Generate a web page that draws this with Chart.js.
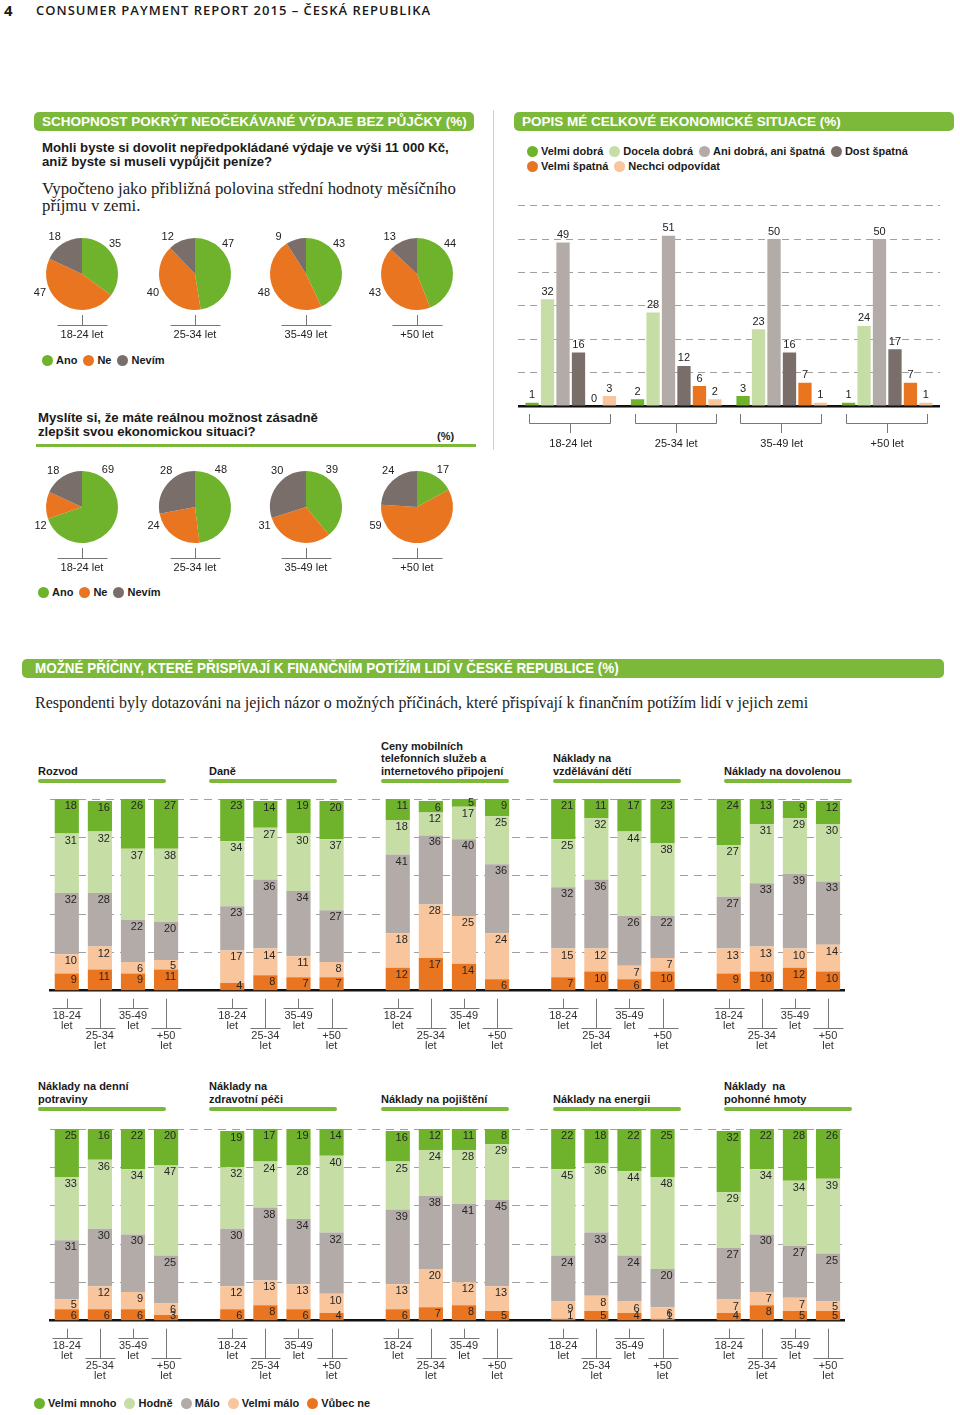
<!DOCTYPE html>
<html><head><meta charset="utf-8">
<script src="https://cdn.jsdelivr.net/npm/chart.js@4.4.0/dist/chart.umd.min.js"></script>
<style>
body{margin:0;width:960px;height:1415px;position:relative;background:#fff;font-family:"Liberation Sans",Arial,sans-serif;color:#1a1a1a;overflow:hidden}
.a{position:absolute;white-space:nowrap}
.hdr{font-family:"Open Sans",sans-serif;font-weight:600;font-size:13px;letter-spacing:1px;line-height:18px;top:1px}
.banner{position:absolute;background:#7cb83a;color:#fff;font-weight:bold;font-size:13.5px;height:19px;line-height:19px;border-radius:5px;box-sizing:border-box;white-space:nowrap}
.q{font-weight:bold;font-size:13.2px;line-height:14px}
.serif{font-family:"Liberation Serif","DejaVu Serif",serif;font-size:16px;line-height:16.5px;color:#222}
.leg{font-weight:bold;font-size:11px;line-height:14px;display:flex;align-items:center}
.leg span.d{display:inline-block;width:11px;height:11px;border-radius:50%;margin-right:3px}
.leg span.t{margin-right:6px}
.ttl{position:absolute;font-weight:bold;font-size:11px;line-height:12.5px;white-space:nowrap}
.gl{position:absolute;height:4px;border-radius:2px;background:#7cb83a}
canvas{position:absolute}
</style></head>
<body>
<div class="a hdr" style="left:4px;font-size:15px;font-weight:700;letter-spacing:0">4</div>
<div class="a hdr" style="left:36px">CONSUMER PAYMENT REPORT 2015 – ČESKÁ REPUBLIKA</div>

<div class="banner" style="left:34px;top:112px;width:440px;padding-left:8px">SCHOPNOST POKRÝT NEOČEKÁVANÉ VÝDAJE BEZ PŮJČKY (%)</div>
<div class="a q" style="left:42px;top:141px">Mohli byste si dovolit nepředpokládané výdaje ve výši 11 000 Kč,<br>aniž byste si museli vypůjčit peníze?</div>
<div class="a serif" style="left:42px;top:181px;font-size:16.8px">Vypočteno jako přibližná polovina střední hodnoty měsíčního<br>příjmu v zemi.</div>

<div class="a" style="left:493px;top:110px;width:1px;height:340px;background:#cfcfcf"></div>
<div class="banner" style="left:514px;top:112px;width:440px;padding-left:8px">POPIS MÉ CELKOVÉ EKONOMICKÉ SITUACE (%)</div>
<div class="a leg" style="left:527px;top:144px"><span class="d" style="background:#6fb22b"></span><span class="t">Velmi dobrá</span><span class="d" style="background:#c6dea6"></span><span class="t">Docela dobrá</span><span class="d" style="background:#b3aba8"></span><span class="t">Ani dobrá, ani špatná</span><span class="d" style="background:#7a6e6a"></span><span class="t">Dost špatná</span></div>
<div class="a leg" style="left:527px;top:159px"><span class="d" style="background:#ea7520"></span><span class="t">Velmi špatná</span><span class="d" style="background:#f8c59c"></span><span class="t">Nechci odpovídat</span></div>

<div class="a leg" style="left:42px;top:353px"><span class="d" style="background:#6fb22b"></span><span class="t">Ano</span><span class="d" style="background:#ea7520"></span><span class="t">Ne</span><span class="d" style="background:#7a6e6a"></span><span class="t">Nevím</span></div>

<div class="a q" style="left:38px;top:411px">Myslíte si, že máte reálnou možnost zásadně<br>zlepšit svou ekonomickou situaci?</div>
<div class="a" style="left:437px;top:429px;font-weight:bold;font-size:11px;line-height:14px">(%)</div>
<div class="a" style="left:36px;top:444px;width:440px;height:3px;background:#7cb83a"></div>
<div class="a leg" style="left:38px;top:585px"><span class="d" style="background:#6fb22b"></span><span class="t">Ano</span><span class="d" style="background:#ea7520"></span><span class="t">Ne</span><span class="d" style="background:#7a6e6a"></span><span class="t">Nevím</span></div>

<div class="banner" style="left:22px;top:659px;width:922px;padding-left:13px;font-size:14px"><span style="display:inline-block;transform:scaleX(0.96);transform-origin:left center">MOŽNÉ PŘÍČINY, KTERÉ PŘISPÍVAJÍ K FINANČNÍM POTÍŽÍM LIDÍ V ČESKÉ REPUBLICE (%)</span></div>
<div class="a serif" style="left:35px;top:695px">Respondenti byly dotazováni na jejich názor o možných příčinách, které přispívají k finančním potížím lidí v jejich zemi</div>

<div class="a leg" style="left:34px;top:1396px"><span class="d" style="background:#6fb22b"></span><span class="t" style="margin-right:8px">Velmi mnoho</span><span class="d" style="background:#c6dea6"></span><span class="t" style="margin-right:8px">Hodně</span><span class="d" style="background:#b3aba8"></span><span class="t" style="margin-right:8px">Málo</span><span class="d" style="background:#f8c59c"></span><span class="t" style="margin-right:8px">Velmi málo</span><span class="d" style="background:#ea7520"></span><span class="t">Vůbec ne</span></div>

<script>
// ---------- DATA ----------
const ages = ['18-24 let', '25-34 let', '35-49 let', '+50 let'];
const ageTicks = [['18-24', 'let'], ['', '', '25-34', 'let'], ['35-49', 'let'], ['', '', '+50', 'let']];
const pieLabels = ['Ano', 'Ne', 'Nevím'];

// Schopnost pokrýt neočekávané výdaje
const coverAno = [35, 47, 43, 44];
const coverNe = [47, 40, 48, 43];
const coverNevim = [18, 12, 9, 13];

// Možnost zlepšit ekonomickou situaci
const improveAno = [69, 48, 39, 17];
const improveNe = [12, 24, 31, 59];
const improveNevim = [18, 28, 30, 24];

// Popis mé celkové ekonomické situace
const econSeries = ['Velmi dobrá', 'Docela dobrá', 'Ani dobrá, ani špatná', 'Dost špatná', 'Velmi špatná', 'Nechci odpovídat'];
const econVelmiDobra = [1, 2, 3, 1];
const econDocelaDobra = [32, 28, 23, 24];
const econAni = [49, 51, 50, 50];
const econDostSpatna = [16, 12, 16, 17];
const econVelmiSpatna = [0, 6, 7, 7];
const econNechci = [3, 2, 1, 1];

// Možné příčiny – series order: Velmi mnoho, Hodně, Málo, Velmi málo, Vůbec ne
const causeSeries = ['Velmi mnoho', 'Hodně', 'Málo', 'Velmi málo', 'Vůbec ne'];
const row1Titles = ['Rozvod', 'Daně', 'Ceny mobilních<br>telefonních služeb a<br>internetového připojení', 'Náklady na<br>vzdělávání dětí', 'Náklady na dovolenou'];
const rozvod = [[18, 16, 26, 27], [31, 32, 37, 38], [32, 28, 22, 20], [10, 12, 6, 5], [9, 11, 9, 11]];
const dane = [[23, 14, 19, 20], [34, 27, 30, 37], [23, 36, 34, 27], [17, 14, 11, 8], [4, 8, 7, 7]];
const mobilni = [[11, 6, 5, 9], [18, 12, 17, 25], [41, 36, 40, 36], [18, 28, 25, 24], [12, 17, 14, 6]];
const vzdelavani = [[21, 11, 17, 23], [25, 32, 44, 38], [32, 36, 26, 22], [15, 12, 7, 7], [7, 10, 6, 10]];
const dovolena = [[24, 13, 9, 12], [27, 31, 29, 30], [27, 33, 39, 33], [13, 13, 10, 14], [9, 10, 12, 10]];

const row2Titles = ['Náklady na denní<br>potraviny', 'Náklady na<br>zdravotní péči', 'Náklady na pojištění', 'Náklady na energii', 'Náklady&nbsp; na<br>pohonné hmoty'];
const potraviny = [[25, 16, 22, 20], [33, 36, 34, 47], [31, 30, 30, 25], [5, 12, 9, 6], [6, 6, 6, 3]];
const zdravotni = [[19, 17, 19, 14], [32, 24, 28, 40], [30, 38, 34, 32], [12, 13, 13, 10], [6, 8, 6, 4]];
const pojisteni = [[16, 12, 11, 8], [25, 24, 28, 29], [39, 38, 41, 45], [13, 20, 12, 13], [6, 7, 8, 5]];
const energie = [[22, 18, 22, 25], [45, 36, 44, 48], [24, 33, 24, 20], [9, 8, 6, 6], [1, 5, 4, 1]];
const pohonne = [[32, 22, 28, 26], [29, 34, 34, 39], [27, 30, 27, 25], [7, 7, 7, 5], [4, 8, 5, 5]];

// ---------- STYLE ----------
const G = '#6fb22b', LG = '#c6dea6', GR = '#b3aba8', DG = '#7a6e6a', OR = '#ea7520', PE = '#f8c59c';
const causeColors = [G, LG, GR, PE, OR];
const econColors = [G, LG, GR, DG, OR, PE];
Chart.defaults.font.family = '"Liberation Sans", Arial, sans-serif';
Chart.defaults.color = '#222';
Chart.defaults.animation = false;
Chart.defaults.responsive = false;
Chart.defaults.plugins.legend.display = false;
Chart.defaults.plugins.tooltip.enabled = false;

function addCanvas(left, top, w, h) {
  const c = document.createElement('canvas');
  c.width = w; c.height = h;
  c.style.left = left + 'px'; c.style.top = top + 'px';
  c.style.width = w + 'px'; c.style.height = h + 'px';
  document.body.appendChild(c);
  return c;
}

// ---------- PIES ----------
const pieDeco = {
  id: 'pieDeco',
  afterDraw(chart, args, opts) {
    const ctx = chart.ctx;
    const meta = chart.getDatasetMeta(0);
    const arc0 = meta.data[0];
    const cx = arc0.x, cy = arc0.y, r = arc0.outerRadius;
    ctx.save();
    ctx.font = '11px "Liberation Sans", Arial, sans-serif';
    ctx.fillStyle = '#222';
    ctx.textAlign = 'center'; ctx.textBaseline = 'middle';
    chart.data.datasets[0].data.forEach((v, i) => {
      const o = opts.offsets[i];
      ctx.fillText(String(v), cx + o[0] * r, cy + o[1] * r);
    });
    ctx.strokeStyle = '#777'; ctx.lineWidth = 1;
    const x = Math.round(cx) + 0.5;
    ctx.beginPath();
    ctx.moveTo(x, cy + r + 5); ctx.lineTo(x, cy + r + 15);
    ctx.moveTo(x - 25, Math.round(cy + r + 15) + 0.5); ctx.lineTo(x + 25, Math.round(cy + r + 15) + 0.5);
    ctx.stroke();
    ctx.fillText(opts.label, cx, cy + r + 25);
    ctx.restore();
  }
};

function makePie(cx, cy, values, label, offsets) {
  const c = addCanvas(cx - 65, cy - 50, 130, 140);
  new Chart(c, {
    type: 'pie',
    data: { labels: pieLabels, datasets: [{ data: values, backgroundColor: [G, OR, DG], borderWidth: 0 }] },
    options: {
      layout: { padding: { left: 29, right: 29, top: 14, bottom: 54 } },
      plugins: { pieDeco: { label: label, offsets: offsets } }
    },
    plugins: [pieDeco]
  });
}
const row1PieX = [82, 195, 306, 417];
ages.forEach((a, i) => makePie(row1PieX[i], 274, [coverAno[i], coverNe[i], coverNevim[i]], a, [[0.92, -0.83], [-1.17, 0.53], [-0.76, -1.03]]));
ages.forEach((a, i) => makePie(row1PieX[i], 507, [improveAno[i], improveNe[i], improveNevim[i]], a, [[0.72, -1.03], [-1.15, 0.52], [-0.8, -1.0]]));

// ---------- ECON BAR CHART ----------
const econData = [econVelmiDobra, econDocelaDobra, econAni, econDostSpatna, econVelmiSpatna, econNechci];
const econDeco = {
  id: 'econDeco',
  afterDraw(chart) {
    const ctx = chart.ctx, ca = chart.chartArea;
    ctx.save();
    ctx.font = '11px "Liberation Sans", Arial, sans-serif';
    ctx.fillStyle = '#222'; ctx.textAlign = 'center'; ctx.textBaseline = 'bottom';
    chart.data.datasets.forEach((ds, d) => {
      chart.getDatasetMeta(d).data.forEach((el, i) => {
        ctx.fillText(String(ds.data[i]), el.x, el.y - 2);
      });
    });
    ctx.strokeStyle = '#777'; ctx.lineWidth = 1;
    const n = chart.data.datasets.length;
    chart.data.labels.forEach((l, i) => {
      const first = chart.getDatasetMeta(0).data[i], last = chart.getDatasetMeta(n - 1).data[i];
      const L = Math.round(first.x - first.width / 2 + 4) + 0.5, R = Math.round(last.x + last.width / 2 - 6) + 0.5;
      const C = Math.round((L + R) / 2) + 0.5;
      const yb = Math.round(ca.bottom + 17) + 0.5;
      ctx.beginPath();
      ctx.moveTo(L, ca.bottom + 8); ctx.lineTo(L, yb); ctx.lineTo(R, yb); ctx.lineTo(R, ca.bottom + 8);
      ctx.moveTo(C, yb); ctx.lineTo(C, ca.bottom + 27);
      ctx.stroke();
    });
    ctx.restore();
  }
};
new Chart(addCanvas(518, 195, 422, 262), {
  type: 'bar',
  data: {
    labels: ages,
    datasets: econSeries.map((s, k) => ({ label: s, data: econData[k], backgroundColor: econColors[k], categoryPercentage: 0.88, barPercentage: 0.86 }))
  },
  options: {
    layout: { padding: { top: 10.7 } },
    scales: {
      x: { grid: { display: false, drawTicks: false }, border: { color: '#111', width: 2.5 },
           ticks: { padding: 31, font: { size: 11 }, color: '#222' }, afterFit: s => { s.height = 51; } },
      y: { min: 0, max: 60, ticks: { display: false, stepSize: 10 }, grid: { color: '#a0a0a0', drawTicks: false },
           border: { display: false, dash: [7, 5] }, afterFit: s => { s.width = 0; } }
    }
  },
  plugins: [econDeco]
});

// ---------- STACKED CAUSE ROWS ----------
const stackDeco = {
  id: 'stackDeco',
  afterDraw(chart) {
    const ctx = chart.ctx, ca = chart.chartArea, xs = chart.scales.x;
    ctx.save();
    ctx.font = '11px "Liberation Sans", Arial, sans-serif';
    ctx.fillStyle = '#262626'; ctx.textAlign = 'right'; ctx.textBaseline = 'middle';
    chart.data.datasets.forEach((ds, d) => {
      chart.getDatasetMeta(d).data.forEach((el, i) => {
        const v = ds.data[i];
        if (v == null) return;
        const top = Math.max(el.y, ca.top), base = el.base;
        const y = Math.min(top + 7, base - 4);
        ctx.fillText(String(v), el.x + el.width / 2 - 2, y);
      });
    });
    ctx.strokeStyle = '#777'; ctx.lineWidth = 1;
    chart.data.labels.forEach((lab, i) => {
      if (!lab || !lab.length) return;
      const cx = Math.round(xs.getPixelForValue(i)) + 0.5;
      const y1 = Math.round(ca.bottom + (lab.length > 2 ? 37 : 17)) + 0.5;
      ctx.beginPath();
      ctx.moveTo(cx, ca.bottom + 8); ctx.lineTo(cx, y1);
      ctx.moveTo(cx - 15, y1); ctx.lineTo(cx + 15, y1);
      ctx.stroke();
    });
    ctx.restore();
  }
};

function makeRow(top, panels, titles, titleBottom, lineTop) {
  const labels = [];
  const series = causeSeries.map(() => []);
  panels.forEach((p, pi) => {
    for (let i = 0; i < 4; i++) {
      labels.push(ageTicks[i]);
      p.forEach((arr, s) => series[s].push(arr[i]));
    }
    if (pi < panels.length - 1) {
      labels.push('');
      series.forEach(s => s.push(null));
    }
  });
  // datasets bottom-up: Vůbec ne, Velmi málo, Málo, Hodně, Velmi mnoho
  const order = [4, 3, 2, 1, 0];
  const left = 33, width = 824;
  new Chart(addCanvas(left, top, width, 262), {
    type: 'bar',
    data: {
      labels: labels,
      datasets: order.map(s => ({ label: causeSeries[s], data: series[s], backgroundColor: causeColors[s], categoryPercentage: 1, barPercentage: 0.73, stack: 'a' }))
    },
    options: {
      layout: { padding: { top: 9 } },
      scales: {
        x: { stacked: true, grid: { display: false, drawTicks: false }, border: { color: '#111', width: 2.5 },
             ticks: { autoSkip: false, maxRotation: 0, minRotation: 0, padding: 20, color: '#333', font: { size: 11, lineHeight: '10px' } },
             afterFit: s => { s.height = 61.3; } },
        y: { stacked: true, min: 0, max: 100, ticks: { display: false, stepSize: 20 }, grid: { color: '#a0a0a0', drawTicks: false },
             border: { display: false, dash: [8, 6] }, afterFit: s => { s.width = 0; } }
      }
    },
    plugins: [stackDeco]
  });
  // titles and green underlines
  const cat = width / labels.length;
  titles.forEach((t, pi) => {
    const x = Math.round(left + pi * 5 * cat + cat * 0.135);
    const d = document.createElement('div');
    d.className = 'ttl'; d.innerHTML = t;
    d.style.left = x + 'px'; d.style.bottom = (1415 - titleBottom) + 'px';
    document.body.appendChild(d);
    const g = document.createElement('div');
    g.className = 'gl'; g.style.left = x + 'px'; g.style.top = lineTop + 'px';
    g.style.width = Math.round(3 * cat + cat * 0.73) + 'px';
    document.body.appendChild(g);
  });
}
makeRow(790, [rozvod, dane, mobilni, vzdelavani, dovolena], row1Titles, 777, 779);
makeRow(1120, [potraviny, zdravotni, pojisteni, energie, pohonne], row2Titles, 1105, 1107);
</script>
</body></html>
